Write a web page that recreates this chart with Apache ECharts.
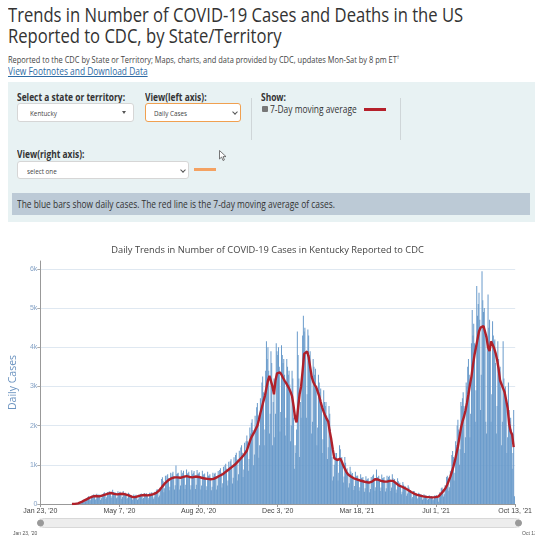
<!DOCTYPE html>
<html><head><meta charset="utf-8">
<script src="https://cdn.jsdelivr.net/npm/echarts@6/dist/echarts.min.js"></script>
<style>
html,body{margin:0;padding:0;width:535px;height:537px;overflow:hidden;background:#fff;font-family:'Open Sans',sans-serif;color:#333;}
.a{position:absolute;white-space:nowrap;}
.sx{transform:scaleX(.84);transform-origin:0 0;}
.b{font-weight:700;font-size:10px;line-height:12px;color:#333;}
.sel{position:absolute;background:#fff;border:1px solid #d6d6d6;border-radius:3px;box-sizing:border-box;}
.st{position:absolute;font-size:7.5px;line-height:10px;color:#444;white-space:nowrap;transform:scaleX(.84);transform-origin:0 0;}
.chev{position:absolute;width:3px;height:3px;border-right:1px solid #555;border-bottom:1px solid #555;transform:rotate(45deg);}
.vd{position:absolute;width:1px;background:#cfd6d8;}
</style></head>
<body>
<div class="a" style="left:8px;top:5px;font-size:20px;line-height:20px;color:#333;transform:scaleX(.83);transform-origin:0 0;">Trends in Number of COVID-19 Cases and Deaths in the US</div>
<div class="a" style="left:8px;top:25.5px;font-size:20px;line-height:20px;color:#333;transform:scaleX(.83);transform-origin:0 0;">Reported to CDC, by State/Territory</div>
<div class="a sx" style="left:8px;top:52px;font-size:8.9px;line-height:10px;color:#444;">Reported to the CDC by State or Territory; Maps, charts, and data provided by CDC, updates Mon-Sat by 8 pm ET<sup style="font-size:6px;">†</sup></div>
<div class="a sx" style="left:8px;top:65px;font-size:10px;line-height:12px;color:#2d6aa3;text-decoration:underline;">View Footnotes and Download Data</div>

<div class="a" style="left:8px;top:82px;width:527px;height:140px;background:#e8f2f3;"></div>
<div class="a sx b" style="left:17px;top:91px;">Select a state or territory:</div>
<div class="sel" style="left:17px;top:103px;width:117px;height:19px;"></div>
<div class="st" style="left:30px;top:107.5px;">Kentucky</div>
<div class="a" style="left:122px;top:111px;width:0;height:0;border-left:2.5px solid transparent;border-right:2.5px solid transparent;border-top:3px solid #555;"></div>
<div class="a sx b" style="left:145px;top:91px;">View(left axis):</div>
<div class="sel" style="left:145px;top:103px;width:96px;height:19px;border-color:#f0a050;"></div>
<div class="st" style="left:154px;top:108px;">Daily Cases</div>
<div class="chev" style="left:233px;top:110px;"></div>
<div class="vd" style="left:251px;top:98px;height:42px;"></div>
<div class="a sx b" style="left:261px;top:91px;">Show:</div>
<div class="a" style="left:262px;top:106px;width:6px;height:6px;background:#777;border-radius:1px;"></div>
<div class="a sx" style="left:270px;top:103px;font-size:10px;line-height:12px;color:#333;">7-Day moving average</div>
<div class="a" style="left:364px;top:108px;width:22px;height:3px;background:#b5202a;"></div>
<div class="vd" style="left:400px;top:98px;height:42px;"></div>
<div class="a sx b" style="left:17px;top:148px;">View(right axis):</div>
<div class="sel" style="left:17px;top:161px;width:172px;height:18px;"></div>
<div class="st" style="left:27px;top:165.5px;">select one</div>
<div class="chev" style="left:181px;top:168px;"></div>
<div class="a" style="left:194px;top:168px;width:22px;height:3px;background:#f4a262;"></div>
<svg class="a" style="left:219px;top:150px;" width="9" height="12"><path d="M0.5 0.5 L0.5 9 L2.6 7 L4 10.5 L5.4 9.9 L4.1 6.6 L7 6.6 Z" fill="#fff" stroke="#555" stroke-width="0.8"/></svg>
<div class="a" style="left:12px;top:193px;width:518px;height:22px;background:#bccad6;"></div>
<div class="a sx" style="left:17px;top:198px;font-size:10px;line-height:12px;color:#333;">The blue bars show daily cases. The red line is the 7-day moving average of cases.</div>

<div id="chart" class="a" style="left:0;top:230px;width:535px;height:307px;"></div>
<div class="a" style="left:13px;top:530px;font-size:5px;line-height:6px;color:#555;font-family:'Liberation Sans';">Jan 23, '20</div>
<div class="a" style="left:522px;top:530px;font-size:5px;line-height:6px;color:#555;font-family:'Liberation Sans';">Oct 13, '21</div>

<script>
const chartTitle = "Daily Trends in Number of COVID-19 Cases in Kentucky Reported to CDC";
const axisStartDate = "2020-01-23";
const firstDataDate = "2020-03-05";
const tickStepDays = 105;
const tickLabels = ["Jan 23, '20","May 7, '20","Aug 20, '20","Dec 3, '20","Mar 18, '21","Jul 1, '21","Oct 13, '21"];
const yTickLabels = ["0","1k","2k","3k","4k","5k","6k"];

// daily reported cases, one value per day from 2020-03-05 to 2021-10-13
const dailyCases = [
0,1,0,1,2,3,4,
6,10,14,9,20,45,60,
80,110,100,60,70,130,125,
170,195,175,90,115,210,190,
230,250,215,110,135,260,220,
235,240,210,105,145,255,230,
275,300,245,130,170,305,275,
310,325,285,155,195,365,305,
290,305,260,145,175,325,280,
300,310,265,135,180,330,285,
265,285,245,130,160,290,260,
220,230,200,105,130,245,210,
215,235,195,100,130,240,215,
255,265,235,125,155,280,245,
260,275,235,115,155,285,255,
285,300,260,135,175,310,275,
350,380,330,170,220,420,380,
640,680,580,300,400,720,620,
730,760,660,350,440,800,700,
780,820,710,370,480,980,760,
780,800,700,370,470,860,750,
800,850,730,380,490,880,770,
790,820,720,370,480,860,760,
800,840,730,380,490,870,770,
780,810,710,370,470,850,750,
750,780,680,360,450,820,720,
730,760,670,350,440,800,700,
770,800,700,370,470,840,740,
870,910,800,420,530,950,840,
990,1030,900,470,600,1080,950,
1090,1140,1000,520,670,1190,1050,
1250,1310,1140,600,760,1360,1200,
1440,1500,1310,690,880,1560,1380,
1600,1750,1600,850,1150,1950,1800,
2070,2160,1890,990,1260,2250,1980,
2470,2580,2260,1180,1500,2700,2370,
3100,3250,2850,1500,1900,3400,4150,
3700,4000,3400,1800,2300,3900,3600,
1500,2600,3200,1700,2300,4100,3900,
3800,4000,3500,1850,2350,4050,3800,
3600,3700,3300,1750,2200,3700,3500,
3300,3400,3050,1600,2000,3400,3200,
2200,900,1500,1300,1900,4400,3800,
3200,1200,2600,2200,3100,4300,4800,
4400,4500,3900,2200,2800,4450,4300,
3800,3900,3300,1800,2100,3700,3500,
3300,3450,2900,1500,1950,3300,3100,
2850,2950,2550,1300,1650,2900,2600,
2500,2600,2250,1150,1450,2500,2300,
1900,1600,1200,600,700,1000,1300,
1200,1300,1150,600,800,1500,1400,
1150,1200,1050,550,700,1200,1050,
880,910,800,420,530,950,830,
760,790,690,360,460,820,720,
700,730,640,340,430,760,670,
660,690,600,310,400,710,620,
630,660,580,300,380,690,600,
720,750,650,340,430,880,680,
690,720,630,330,420,750,660,
660,690,600,320,400,720,630,
690,720,630,330,420,760,660,
610,640,560,290,370,660,580,
520,540,470,250,310,560,490,
440,460,400,210,270,480,420,
350,360,300,140,180,330,330,
270,280,250,130,160,290,260,
240,250,210,110,140,250,220,
210,215,190,100,125,225,200,
200,205,180,95,120,215,190,
220,230,160,60,150,300,280,
400,420,370,190,250,480,450,
690,720,650,340,430,850,800,
1250,1350,1200,600,800,1600,1500,
2000,2150,1900,1000,1400,2600,2500,
2700,2850,2500,1300,1700,3100,3000,
3500,3700,3300,1700,2300,4100,4950,
4300,4600,4100,2100,2900,5560,4800,
5100,5390,4700,2400,3300,5940,5200,
4900,5000,4300,2100,1800,4200,5345,
4500,4700,4000,2100,2800,4660,4300,
4150,4200,3600,1800,2500,4150,3700,
3450,3500,3000,1500,2100,4150,3200,
2900,3000,2600,1300,1700,3100,2400,
2100,2200,1900,900,1300,2400,200
];

// 7-day moving average, read every 2nd day starting 2020-03-05
const maStepDays = 2;
const movingAverage = [
0,1,4,8,16,30,45,65,85,105,
125,145,165,185,195,200,205,200,195,200,
215,230,240,255,265,275,280,275,260,255,
245,245,255,260,260,255,240,230,215,200,
180,175,175,190,200,215,220,220,230,230,
220,220,230,235,250,265,285,310,350,400,
450,500,540,580,610,635,655,670,680,680,
680,670,670,680,690,700,710,700,690,680,
680,690,700,700,690,680,670,660,650,650,
640,640,630,630,640,660,680,700,720,740,
760,790,820,850,880,910,940,970,1000,1040,
1080,1120,1160,1200,1250,1300,1360,1480,1600,1700,
1770,1840,1920,2000,2150,2320,2470,2620,2760,2960,
3150,3270,3280,3000,2800,3150,3330,3380,3360,3300,
3220,3150,3090,3020,2950,2860,2750,2500,2200,2080,
2450,2800,3000,3400,3830,3880,3890,3750,3500,3250,
3120,3040,2980,2870,2750,2600,2460,2350,2250,2170,
2100,1850,1650,1400,1170,1130,1120,1140,1160,1080,
980,900,820,760,730,700,670,655,640,630,
615,600,590,580,570,560,550,545,550,570,
600,630,640,625,605,590,580,575,570,570,
575,590,610,590,560,530,500,470,450,440,
420,400,375,355,330,305,280,265,250,235,
225,215,205,195,188,182,178,175,172,170,
172,175,180,190,220,270,320,360,420,500,
600,700,820,950,1100,1280,1460,1700,1930,2100,
2220,2380,2580,2800,3050,3250,3550,3800,4000,4200,
4400,4500,4550,4540,4490,4250,4000,3900,4150,4200,
3980,3850,3680,3450,3150,3050,2950,2850,2650,2450,
2050,1850,1770,1450
];

const DAY = 864e5;
const offset = Math.round((Date.parse(firstDataDate) - Date.parse(axisStartDate)) / DAY);
const barData = dailyCases.map((v, i) => [offset + i, v]);
const lineData = movingAverage.map((v, i) => [offset + i * maStepDays, v]);
const axisMaxDay = tickStepDays * (tickLabels.length - 1);

const chart = echarts.init(document.getElementById('chart'), null, {renderer: 'canvas'});
chart.setOption({
  animation: false,
  title: {text: chartTitle, left: 'center', top: 11,
    textStyle: {fontSize: 9.3, fontWeight: 'normal', color: '#444', fontFamily: 'Open Sans'}},
  grid: {left: 38, right: 17, top: 31, bottom: 33},
  xAxis: {type: 'value', min: 0, max: axisMaxDay, interval: tickStepDays,
    axisLine: {lineStyle: {color: '#999', width: 1}},
    axisTick: {show: true, length: 3, lineStyle: {color: '#999'}},
    axisLabel: {fontSize: 7, color: '#444', fontFamily: 'Liberation Sans', margin: 4,
      formatter: v => tickLabels[Math.round(v / tickStepDays)] || ''},
    splitLine: {show: false}},
  yAxis: {type: 'value', min: 0, max: 6200, interval: 1000,
    name: 'Daily Cases', nameLocation: 'middle', nameGap: 17,
    nameTextStyle: {color: '#6b93c0', fontSize: 10.5, fontFamily: 'Open Sans'},
    axisLine: {show: true, lineStyle: {color: '#999', width: 1}},
    axisTick: {show: true, length: 3, lineStyle: {color: '#aaa'}},
    axisLabel: {fontSize: 7, color: '#86a3c6', fontFamily: 'Liberation Sans', margin: 3, showMaxLabel: false,
      formatter: v => (v % 1000 === 0 ? yTickLabels[v / 1000] : '')},
    splitLine: {show: true, showMaxLine: false, lineStyle: {color: '#dfe8f1', width: 1}}},
  dataZoom: [{type: 'slider', xAxisIndex: 0, filterMode: 'none', start: 0, end: 100,
    left: 38, right: 17, bottom: 9, height: 10,
    showDetail: false, showDataShadow: false, brushSelect: false, moveHandleSize: 0,
    handleIcon: 'circle', handleSize: 6, handleStyle: {color: '#999', borderColor: '#999'},
    fillerColor: 'rgba(0,0,0,0)', backgroundColor: '#ededed', borderColor: '#d8d8d8', borderRadius: 5}],
  series: [
    {type: 'bar', data: barData, barWidth: 0.8, itemStyle: {color: '#6a9bcb'}, silent: true, z: 2},
    {type: 'line', data: lineData, showSymbol: false, silent: true, z: 3,
      lineStyle: {color: '#b0202a', width: 2.4}}
  ]
});
</script>
</body></html>
